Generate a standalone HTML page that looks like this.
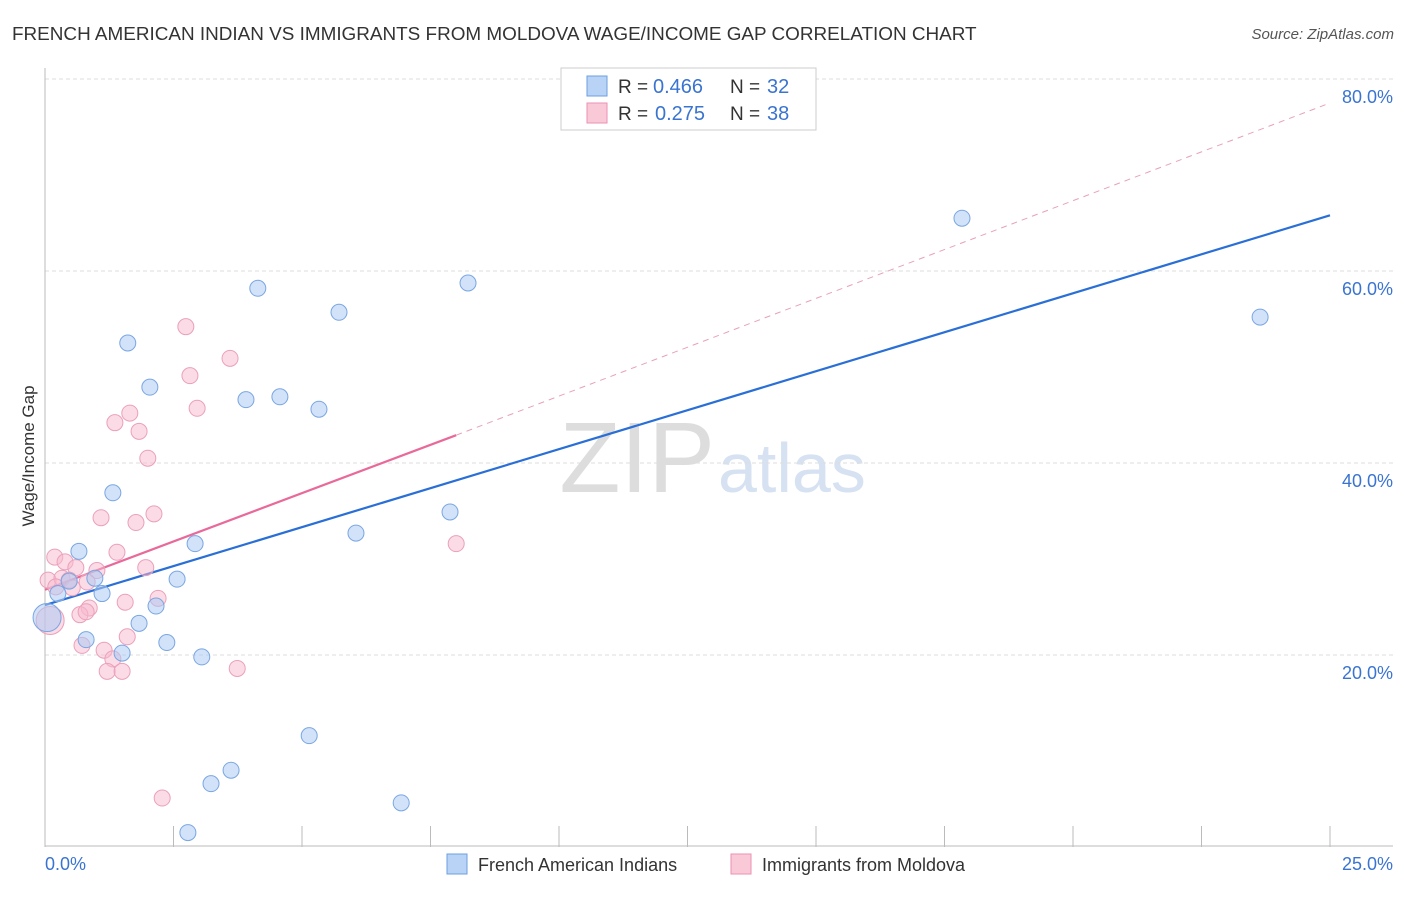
<!DOCTYPE html>
<html><head><meta charset="utf-8"><style>
body{margin:0;background:#fff;font-family:"Liberation Sans",sans-serif}
svg text{font-family:"Liberation Sans",sans-serif}
</style></head><body>
<svg width="1406" height="892">
<text x="12" y="40" font-size="18.9" fill="#333">FRENCH AMERICAN INDIAN VS IMMIGRANTS FROM MOLDOVA WAGE/INCOME GAP CORRELATION CHART</text>
<text x="1394" y="39" font-size="15" fill="#555" text-anchor="end" font-style="italic">Source: ZipAtlas.com</text>
<text x="715" y="492" font-size="100" fill="#ddd" text-anchor="end" font-family="Liberation Serif">ZIP</text>
<text x="718" y="492" font-size="70" fill="#d6e2f2">atlas</text>
<g id="grid"></g><g id="lines"></g><g id="pts"></g>
<text transform="translate(34,456) rotate(-90)" font-size="17" fill="#333" text-anchor="middle">Wage/Income Gap</text>
<text x="45" y="870" font-size="18" fill="#3a74d0">0.0%</text>
<text x="1393" y="870" font-size="18" fill="#3a74d0" text-anchor="end">25.0%</text>
<g>
<rect x="561" y="68" width="255" height="62" fill="#fff" stroke="#ccc"/>
<rect x="587" y="76" width="20" height="20" fill="#b8d3f5" stroke="#6e9fe0"/>
<rect x="587" y="103" width="20" height="20" fill="#f9c9d8" stroke="#ea92b0"/>
<text x="618" y="93" font-size="19" fill="#333">R =</text>
<text x="653" y="93" font-size="20" fill="#3a74d0">0.466</text>
<text x="730" y="93" font-size="19" fill="#333">N =</text>
<text x="767" y="93" font-size="20" fill="#3a74d0">32</text>
<text x="618" y="120" font-size="19" fill="#333">R =</text>
<text x="655" y="120" font-size="20" fill="#3a74d0">0.275</text>
<text x="730" y="120" font-size="19" fill="#333">N =</text>
<text x="767" y="120" font-size="20" fill="#3a74d0">38</text>
</g>
<g>
<rect x="447" y="854" width="20" height="20" fill="#b8d3f5" stroke="#6e9fe0"/>
<text x="478" y="871" font-size="18" fill="#333">French American Indians</text>
<rect x="731" y="854" width="20" height="20" fill="#f9c9d8" stroke="#ea92b0"/>
<text x="762" y="871" font-size="18" fill="#333">Immigrants from Moldova</text>
</g>
</svg>
<script>
const yTicks=[20,40,60,80];
const yTickLabels=["20.0%","40.0%","60.0%","80.0%"];
const xTicks=[0,2.5,5,7.5,10,12.5,15,17.5,20,22.5,25];
const blueX=[17.84,8.23,4.14,5.72,23.64,1.61,2.04,3.91,4.57,5.33,1.32,7.88,6.05,0.66,2.92,2.57,0.97,0.47,1.11,0.25,2.16,1.83,0.80,2.37,1.50,3.05,5.14,3.62,3.23,6.93,2.78,0.04];
const blueY=[65.5,58.75,58.2,55.7,55.2,52.5,47.9,46.6,46.9,45.6,36.9,34.9,32.7,30.8,31.6,27.9,28.0,27.7,26.4,26.4,25.1,23.3,21.6,21.3,20.2,19.8,11.6,8.0,6.6,4.6,1.5,23.9];
const pinkX=[2.74,3.60,2.82,2.96,1.65,1.36,1.83,2.00,1.09,2.12,1.77,0.19,1.40,0.39,0.60,1.01,1.96,0.06,0.33,0.47,0.82,0.53,2.20,1.56,0.86,0.68,0.80,1.60,0.72,1.15,1.32,1.21,1.50,3.74,8.00,2.28,0.21,0.10];
const pinkY=[54.2,50.9,49.1,45.7,45.2,44.2,43.3,40.5,34.3,34.7,33.8,30.2,30.7,29.7,29.1,28.8,29.1,27.8,28.0,27.8,27.6,27.0,25.9,25.5,24.9,24.2,24.5,21.9,21.0,20.5,19.6,18.3,18.3,18.6,31.6,5.1,27.1,23.6];
const blueFit=[25.2,65.8];
const pinkFit=[26.8,42.9,8,77.5];
const NS="http://www.w3.org/2000/svg";
const sx=v=>45+v/25*1285, sy=v=>847-v*9.6;
function mk(t,a,p){const e=document.createElementNS(NS,t);for(const k in a)e.setAttribute(k,a[k]);document.getElementById(p).appendChild(e);return e;}
yTicks.forEach((t,i)=>{
 const l=mk('line',{x1:45,x2:1393,y1:sy(t),y2:sy(t),stroke:'#ddd','stroke-dasharray':'4,3'},'grid');
 
 
 const tx=mk('text',{x:1393,y:sy(t)+24,'font-size':18,fill:'#3a74d0','text-anchor':'end'},'grid');tx.textContent=yTickLabels[i];
 
 
});
mk('line',{x1:45,x2:45,y1:68,y2:847,stroke:'#bbb'},'grid');
mk('line',{x1:45,x2:1393,y1:846,y2:846,stroke:'#bbb'},'grid');
xTicks.forEach(t=>{const l=mk('line',{x1:sx(t),x2:sx(t),y1:826,y2:847,stroke:'#bbb'},'grid');
 
 });
let l=mk('line',{x1:sx(0),y1:sy(blueFit[0]),x2:sx(25),y2:sy(blueFit[1]),stroke:'#2a6fd6','stroke-width':2.2},'lines');


l=mk('line',{x1:sx(0),y1:sy(pinkFit[0]),x2:sx(pinkFit[2]),y2:sy(pinkFit[1]),stroke:'#e8699a','stroke-width':2.2},'lines');


l=mk('line',{x1:sx(pinkFit[2]),y1:sy(pinkFit[1]),x2:sx(25),y2:sy(pinkFit[3]),stroke:'#e8a0bb','stroke-width':1,'stroke-dasharray':'6,5'},'lines');


pinkX.forEach((x,i)=>{const c=mk('circle',{cx:sx(x),cy:sy(pinkY[i]),r:i==pinkX.length-1?14:8,fill:'rgba(247,186,206,0.5)',stroke:'#eba0bb','stroke-width':1},'pts');
 
 });
blueX.forEach((x,i)=>{const c=mk('circle',{cx:sx(x),cy:sy(blueY[i]),r:i==blueX.length-1?14:8,fill:'rgba(173,203,243,0.55)',stroke:'#7aa6e2','stroke-width':1},'pts');
 
 });
</script>
</body></html>
